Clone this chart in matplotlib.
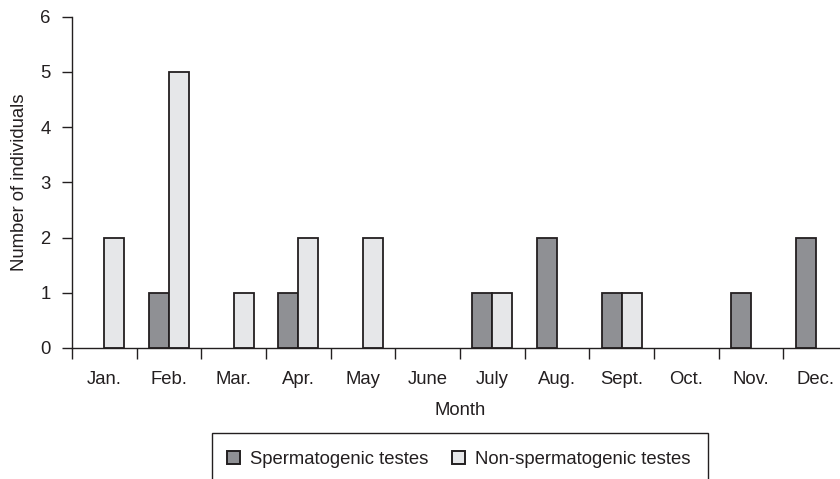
import matplotlib
matplotlib.use("Agg")
import matplotlib.pyplot as plt
import numpy as np
from matplotlib.patches import Rectangle, Patch

plt.rcParams['font.family'] = ['Liberation Sans', 'DejaVu Sans']

months = ['Jan.', 'Feb.', 'Mar.', 'Apr.', 'May', 'June', 'July', 'Aug.', 'Sept.', 'Oct.', 'Nov.', 'Dec.']
spermatogenic = [0, 1, 0, 1, 0, 0, 1, 2, 1, 0, 1, 2]
non_spermatogenic = [2, 5, 1, 2, 2, 0, 1, 0, 1, 0, 0, 0]

W, H = 840, 479
FS = 13.3
fig = plt.figure(figsize=(W / 100, H / 100), dpi=100)
ax = fig.add_axes([72 / W, 1 - 348 / H, (848 - 72) / W, (348 - 16.7) / H])

dark = '#8f9094'
light = '#e6e7e9'
edge = '#231f20'
x = np.arange(len(months)) + 0.5
bw = 0.31

s = np.array(spermatogenic, dtype=float)
n = np.array(non_spermatogenic, dtype=float)
ms = s > 0
mn = n > 0
ax.bar(x[ms] - bw, s[ms], width=bw, align='edge', color=dark, edgecolor=edge, linewidth=1.3)
ax.bar(x[mn], n[mn], width=bw, align='edge', color=light, edgecolor=edge, linewidth=1.3)

ax.set_xlim(0, 12)
ax.set_ylim(0, 6)
ax.set_yticks(range(0, 7))
ax.set_xticks(range(0, 13))
ax.set_xticklabels([])
ax.set_xticks(x, minor=True)
ax.set_xticklabels(months, minor=True)
ax.tick_params(axis='x', which='minor', length=0, pad=16.5, labelsize=FS, colors='#231f20')
ax.tick_params(axis='x', which='major', length=8, width=1, direction='out', color=edge)
ax.tick_params(axis='y', length=7, width=1, direction='out', color=edge, labelsize=FS, pad=8.5, labelcolor='#231f20')
for sp in ['top', 'right']:
    ax.spines[sp].set_visible(False)
for sp in ['left', 'bottom']:
    ax.spines[sp].set_color(edge)
    ax.spines[sp].set_linewidth(1.0)

ax.set_xlabel('Month', fontsize=FS, color='#231f20', labelpad=10)
ax.set_ylabel('Number of individuals', fontsize=FS, color='#231f20', labelpad=8.5)

# legend frame (cut off at bottom)
fig.patches.append(Rectangle((212 / W, -0.05), (708 - 212) / W, (1 - 433 / H) + 0.05,
                             transform=fig.transFigure, facecolor='white', edgecolor=edge,
                             linewidth=1.0, figure=fig))
handles = [Patch(facecolor=dark, edgecolor=edge, linewidth=1.4, label='Spermatogenic testes'),
           Patch(facecolor=light, edgecolor=edge, linewidth=1.4, label='Non-spermatogenic testes')]
fig.legend(handles=handles, loc='center', bbox_to_anchor=(459 / W, 1 - 459 / H), ncol=2,
           frameon=False, fontsize=FS, handlelength=0.7, handleheight=0.7,
           handletextpad=0.55, columnspacing=1.28, labelcolor='#231f20')

fig.savefig('out.png', dpi=100)
